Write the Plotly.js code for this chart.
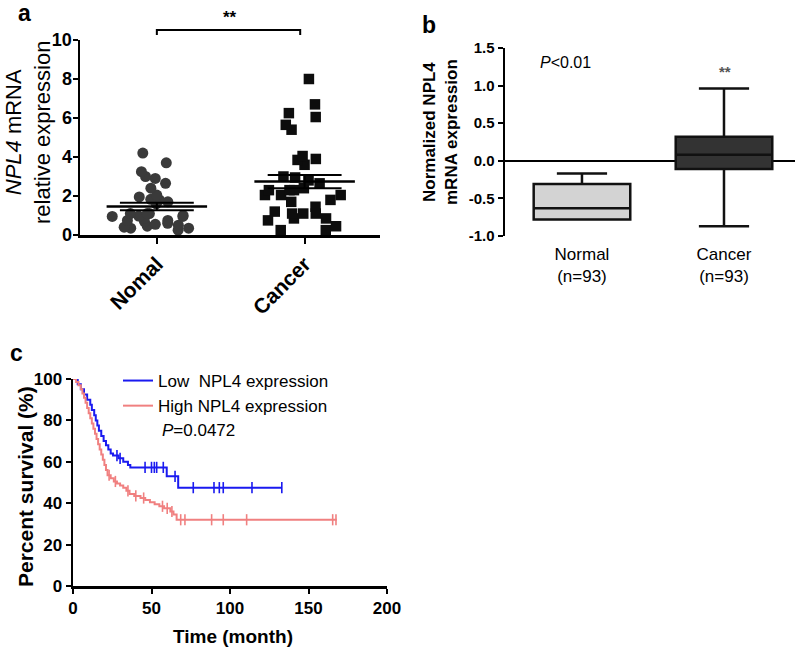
<!DOCTYPE html>
<html><head><meta charset="utf-8">
<script src="https://cdn.plot.ly/plotly-3.0.1.min.js"></script>
<style>html,body{margin:0;padding:0;background:#fff}#chart{width:797px;height:650px}</style>
</head><body><div id="chart"></div>
<script>
// ---- Panel a: dot plot ----
const aCategories = ['Nomal', 'Cancer'];
const aNormal = [4.2, 3.7, 3.25, 2.9, 3.0, 2.65, 2.4, 1.95, 2.05, 1.8, 1.83, 1.6, 1.7, 1.1, 1.0, 0.95, 0.97, 1.1, 0.95, 1.1, 0.7, 0.5, 0.35, 0.25, 0.35, 0.45, 0.6, 0.75, 0.85, 0.75, 0.55, 0.4];
const aCancer = [8.0, 6.7, 6.25, 6.05, 5.65, 5.4, 4.05, 3.85, 3.9, 3.6, 2.95, 2.8, 3.0, 2.65, 2.3, 2.4, 2.3, 2.3, 2.05, 2.05, 2.05, 1.8, 1.7, 1.45, 1.2, 1.1, 1.1, 0.85, 0.85, 0.75, 0.45, 0.25, 0.25, 1.1];
const aYTicks = [0, 2, 4, 6, 8, 10];

// ---- Panel b: box plot ----
const bCategories = ['Normal<br>(n=93)', 'Cancer<br>(n=93)'];
const bQ1 = [-0.78, -0.11];
const bMedian = [-0.63, 0.08];
const bQ3 = [-0.31, 0.32];
const bLower = [-0.78, -0.87];
const bUpper = [-0.17, 0.96];
const bFill = ['#d3d3d3', '#333333'];
const bYTicks = [-1.0, -0.5, 0, 0.5, 1.0, 1.5];
const bYTickText = ['-1.0', '-0.5', '0.0', '0.5', '1.0', '1.5'];

// ---- Panel c: Kaplan-Meier ----
const cLowTime = [0, 3, 5, 7, 9, 11, 12, 13.5, 14.5, 15.5, 16.5, 18, 19.5, 21, 22.5, 24, 25.5, 29, 32, 35, 36.5, 59.7, 67, 133];
const cLowSurv = [100, 97.5, 95, 92.5, 90, 87.5, 85, 82.5, 80, 77.5, 75, 72.5, 70, 68, 66, 64, 63, 61.7, 60, 58.5, 57.3, 53, 47.5, 47.5];
const cLowCensor = [28, 30, 45.9, 50, 51.8, 53.3, 57.5, 65, 76.6, 89.8, 93.2, 95.7, 114, 133];
const cHighTime = [0, 2, 3.5, 5, 6, 7, 8, 9, 10, 11, 12, 13, 14, 15, 16, 17, 18, 19, 20, 21, 22, 24, 26, 28, 30, 32, 34, 36, 39, 43, 46, 49, 52, 55, 58, 62, 64, 66, 168];
const cHighSurv = [100, 98.5, 97, 95, 93, 91, 88.5, 86, 83.5, 81, 78.5, 76, 73.5, 71, 68.5, 66, 63.5, 61, 58.5, 56, 53.5, 52, 50.5, 49.5, 48.5, 47.5, 46, 44.5, 43.5, 42.5, 41.5, 40.5, 39.5, 38.5, 37.5, 36, 34.5, 32, 32];
const cHighCensor = [23, 27, 35, 40, 45, 57, 60, 63, 68.6, 71.3, 88.3, 95.7, 110.6, 165.4, 167.5];
const cXTicks = [0, 50, 100, 150, 200];
const cYTicks = [0, 20, 40, 60, 80, 100];

const FONT = 'Arial, "Liberation Sans", sans-serif';
const W = 797, H = 650;
const px = v => v / W, py = v => 1 - v / H;

const mean = a => a.reduce((s, v) => s + v, 0) / a.length;
const sem = a => { const m = mean(a); return Math.sqrt(a.reduce((s, v) => s + (v - m) ** 2, 0) / (a.length - 1)) / Math.sqrt(a.length); };
const stepAt = (T, S, t) => { let v = S[0]; for (let i = 0; i < T.length; i++) { if (T[i] <= t) v = S[i]; } return v; };

const traces = [];
// a
[aNormal, aCancer].forEach((vals, i) => {
  traces.push({
    type: 'box', x0: i, y: vals, name: aCategories[i], boxpoints: 'all', jitter: 1, pointpos: 0,
    width: 0.62, fillcolor: 'rgba(0,0,0,0)', line: { color: 'rgba(0,0,0,0)', width: 0 },
    marker: { symbol: i === 0 ? 'circle' : 'square', size: i === 0 ? 11 : 10.5, color: i === 0 ? '#3a3a3a' : '#0d0d0d' },
    showlegend: false, xaxis: 'x', yaxis: 'y', hoveron: 'points'
  });
});
// b
bCategories.forEach((c, i) => {
  traces.push({
    type: 'box', x: [i], q1: [bQ1[i]], median: [bMedian[i]], q3: [bQ3[i]], lowerfence: [bLower[i]], upperfence: [bUpper[i]],
    name: c, fillcolor: bFill[i], line: { color: '#111', width: 2.5 }, width: 0.68, whiskerwidth: 0.52,
    showlegend: false, xaxis: 'x2', yaxis: 'y2'
  });
});
// c
const lowColor = '#1a1af0', highColor = '#f08080';
traces.push({ type: 'scatter', mode: 'lines', x: cLowTime, y: cLowSurv, line: { shape: 'hv', color: lowColor, width: 2 }, name: 'Low\u00a0 NPL4 expression', xaxis: 'x3', yaxis: 'y3', cliponaxis: false });
traces.push({ type: 'scatter', mode: 'lines', x: cHighTime, y: cHighSurv, line: { shape: 'hv', color: highColor, width: 2 }, name: 'High NPL4 expression', xaxis: 'x3', yaxis: 'y3', cliponaxis: false });
traces.push({ type: 'scatter', mode: 'markers', x: cLowCensor, y: cLowCensor.map(t => stepAt(cLowTime, cLowSurv, t)), marker: { symbol: 'line-ns-open', size: 8, color: lowColor, line: { color: lowColor, width: 1.6 } }, showlegend: false, xaxis: 'x3', yaxis: 'y3', cliponaxis: false });
traces.push({ type: 'scatter', mode: 'markers', x: cHighCensor, y: cHighCensor.map(t => stepAt(cHighTime, cHighSurv, t)), marker: { symbol: 'line-ns-open', size: 8, color: highColor, line: { color: highColor, width: 1.6 } }, showlegend: false, xaxis: 'x3', yaxis: 'y3', cliponaxis: false });

// mean +/- SEM lines for panel a
const shapes = [];
[aNormal, aCancer].forEach((vals, i) => {
  const m = mean(vals), s = sem(vals);
  shapes.push({ type: 'line', xref: 'x', yref: 'y', x0: i - 0.34, x1: i + 0.34, y0: m, y1: m, line: { color: '#000', width: 2.5 } });
  [m - s, m + s].forEach(v => shapes.push({ type: 'line', xref: 'x', yref: 'y', x0: i - 0.25, x1: i + 0.25, y0: v, y1: v, line: { color: '#000', width: 2 } }));
  shapes.push({ type: 'line', xref: 'x', yref: 'y', x0: i, x1: i, y0: m - s, y1: m + s, line: { color: '#000', width: 2 } });
});
// significance bracket in a
shapes.push({ type: 'path', xref: 'x', yref: 'paper', path: `M0,${py(35)} L0,${py(30)} L0.97,${py(30)} L0.97,${py(35)}`, line: { color: '#000', width: 2 } });

const bold = (size) => ({ family: FONT, size: size, color: '#000', weight: 'bold' });
const reg = (size) => ({ family: FONT, size: size, color: '#000' });
const ann = (text, x, y, font, extra) => Object.assign({ text: text, xref: 'paper', yref: 'paper', x: px(x), y: py(y), showarrow: false, font: font, xanchor: 'center', yanchor: 'middle' }, extra || {});

const annotations = [
  ann('a', 16, 13, bold(23), { xanchor: 'left' }),
  ann('b', 420, 25, bold(23), { xanchor: 'left' }),
  ann('c', 8, 353, bold(23), { xanchor: 'left' }),
  ann('**', 230, 17, bold(17)),
  ann('**', 725, 72, { family: FONT, size: 15, color: '#555', weight: 'bold' }),
  ann('<i>P</i>&lt;0.01', 538, 62, reg(16), { xanchor: 'left' }),
  ann('<i>P</i>=0.0472', 160, 430, reg(17), { xanchor: 'left' }),
  ann('<i>NPL4</i> mRNA<br>relative expression', 28, 133, reg(22), { textangle: -90 }),
  ann('Normalized NPL4<br>mRNA expression', 441, 132, bold(17), { textangle: -90 }),
  ann('Percent survival (%)', 25, 487, bold(21), { textangle: -90 }),
  ann('Time (month)', 233, 636, bold(19))
];

const axBase = { showgrid: false, zeroline: false, showline: true, linecolor: '#000', linewidth: 2.5, ticks: 'outside', tickcolor: '#000', tickwidth: 2, ticklen: 5, fixedrange: true };

const layout = {
  width: W, height: H, margin: { l: 0, r: 0, t: 0, b: 0 }, paper_bgcolor: '#fff', plot_bgcolor: 'rgba(0,0,0,0)',
  font: { family: FONT, color: '#000' }, showlegend: true,
  legend: { x: px(118), y: py(363), xanchor: 'left', yanchor: 'top', font: reg(17), bgcolor: 'rgba(0,0,0,0)', tracegroupgap: 0 },
  xaxis: Object.assign({}, axBase, { domain: [px(80), px(380)], range: [-0.52, 1.51], tickvals: [0, 1], ticktext: aCategories, tickangle: -45, tickfont: bold(21), ticklen: 6, anchor: 'y' }),
  yaxis: Object.assign({}, axBase, { domain: [py(235), py(40)], range: [0, 10], tickvals: aYTicks, tickfont: bold(18), ticklabelstandoff: -3, anchor: 'x' }),
  xaxis2: Object.assign({}, axBase, { domain: [px(505), px(795)], range: [-0.542, 1.5], tickvals: [0, 1], ticktext: bCategories, showline: false, ticks: '', tickfont: reg(17), ticklabelstandoff: 6, anchor: 'y2' }),
  yaxis2: Object.assign({}, axBase, { domain: [py(236), py(48)], range: [-1, 1.5], tickvals: bYTicks, ticktext: bYTickText, tickfont: bold(15), zeroline: true, zerolinecolor: '#000', zerolinewidth: 2.5, anchor: 'x2' }),
  xaxis3: Object.assign({}, axBase, { domain: [px(73), px(387)], range: [0, 200], tickvals: cXTicks, tickfont: bold(17), anchor: 'y3' }),
  yaxis3: Object.assign({}, axBase, { domain: [py(586), py(379)], range: [0, 100], tickvals: cYTicks, tickfont: bold(17), anchor: 'x3' }),
  shapes: shapes, annotations: annotations
};

Plotly.newPlot('chart', traces, layout, { displayModeBar: false, staticPlot: true });
</script></body></html>
